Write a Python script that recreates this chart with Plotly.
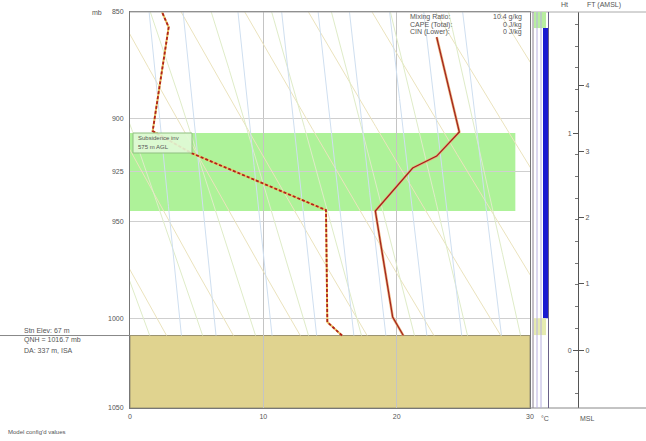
import numpy as np
import plotly.graph_objects as go

# ---------------- data ----------------
p_levels = [1050, 1000, 950, 925, 900, 850]          # mb
h_levels = [-267, 147, 594, 825, 1065, 1558]         # m MSL of those levels

temp_h = [67, 152, 641, 839, 894, 1005, 1442]
temp_t = [20.5, 19.7, 18.4, 21.2, 23.0, 24.7, 23.0]

dew_h = [67, 129, 645, 908, 1009, 1488, 1558]
dew_t = [15.9, 14.8, 14.7, 4.6, 1.7, 2.9, 2.4]

stn_elev = 67
inv_base, inv_top, inv_tmax = 641, 1000, 28.9

km_ticks = [0, 1000]
km_labels = ["0", "1"]
kft_ticks = [0, 304.8, 609.6, 914.4, 1219.2]
kft_labels = ["0", "1", "2", "3", "4"]

# cloud / moisture strip: (bottom m, top m, colour)
strip_bands = [(1484, 1558, "#b8eea0"), (147, 1484, "#1a1ad0"), (69, 147, "#e6ebb0")]

dry_thetas = list(range(2, 50, 5))        # deg C at 1000 mb
moist_thetas = list(range(1, 30, 4))
mix_ratios = [5, 6, 8, 10, 12, 14, 17, 20, 24]

# ---------------- helpers ----------------
P_LEV = np.array(p_levels, float)
def h_of_p(p):
    return np.interp(-np.log(p), -np.log(P_LEV), h_levels)

W, H = 646, 441
def px(x): return x / W
def py(y): return 1 - y / H

p_sfc = float(np.exp(np.interp(stn_elev, h_levels, np.log(P_LEV))))
p_arr = np.linspace(p_sfc, 850, 120)
h_arr = h_of_p(p_arr)

fig = go.Figure()

for th in dry_thetas:
    T = (th + 273.15) * (p_arr / 1000.0) ** 0.2857 - 273.15
    fig.add_trace(go.Scatter(x=T, y=h_arr, mode="lines", line=dict(color="#ebe3bd", width=1), hoverinfo="skip"))

Rd, cp, Lv, eps = 287.04, 1005.7, 2.501e6, 0.622
def es(tc): return 6.112 * np.exp(17.67 * tc / (tc + 243.5))
def moist(tw):
    def step(T, p, dp):
        tc = T - 273.15
        e = es(tc); rs = eps * e / (p - e)
        d = (Rd * T + Lv * rs) / (p * (cp + Lv * Lv * rs * eps / (Rd * T * T)))
        return T + d * dp
    ps_up = np.linspace(1000, 850, 151)
    Tu = [tw + 273.15]
    for i in range(1, len(ps_up)):
        Tu.append(step(Tu[-1], ps_up[i - 1], ps_up[i] - ps_up[i - 1]))
    ps_dn = np.linspace(1000, p_sfc, 20)
    Td_ = [tw + 273.15]
    for i in range(1, len(ps_dn)):
        Td_.append(step(Td_[-1], ps_dn[i - 1], ps_dn[i] - ps_dn[i - 1]))
    ps = np.concatenate([ps_dn[::-1], ps_up[1:]])
    Ts = np.concatenate([np.array(Td_)[::-1], np.array(Tu)[1:]]) - 273.15
    return Ts, h_of_p(ps)
for tw in moist_thetas:
    T, hh = moist(tw)
    fig.add_trace(go.Scatter(x=T, y=hh, mode="lines", line=dict(color="#dfecc8", width=1), hoverinfo="skip"))

for w in mix_ratios:
    e = w * p_arr / (622.0 + w)
    l = np.log(e / 6.112)
    T = 243.5 * l / (17.67 - l)
    fig.add_trace(go.Scatter(x=T, y=h_arr, mode="lines", line=dict(color="#cfdff0", width=1), hoverinfo="skip"))

fig.add_trace(go.Scatter(x=temp_t, y=temp_h, mode="lines", line=dict(color="#eab07a", width=2.6), hoverinfo="skip"))
fig.add_trace(go.Scatter(x=temp_t, y=temp_h, mode="lines", line=dict(color="#a3261e", width=1.3), hoverinfo="skip"))
fig.add_trace(go.Scatter(x=dew_t, y=dew_h, mode="lines", line=dict(color="#e8c060", width=2.0), hoverinfo="skip"))
fig.add_trace(go.Scatter(x=dew_t, y=dew_h, mode="lines", line=dict(color="#b0231c", width=1.8, dash="3px,2px"), hoverinfo="skip"))

fig.add_trace(go.Scatter(x=[None], y=[None], yaxis="y2", showlegend=False))
fig.add_trace(go.Scatter(x=[None], y=[None], yaxis="y3", showlegend=False))

shapes = []
shapes.append(dict(type="rect", xref="x", yref="y", x0=0, x1=30, y0=h_levels[0], y1=stn_elev,
                   fillcolor="#e0d38f", line=dict(color="#9a9270", width=1), layer="below"))
shapes.append(dict(type="rect", xref="x", yref="y", x0=0, x1=inv_tmax, y0=inv_base, y1=inv_top,
                   fillcolor="rgba(160,240,135,0.85)", line=dict(width=0), layer="below"))
shapes.append(dict(type="line", xref="paper", yref="y", x0=0, x1=px(130), y0=stn_elev, y1=stn_elev,
                   line=dict(color="#888", width=1)))
shapes.append(dict(type="line", xref="paper", yref="paper", x0=px(130), x1=1, y0=py(12), y1=py(12),
                   line=dict(color="#aaa", width=1)))
shapes.append(dict(type="line", xref="paper", yref="paper", x0=px(530), x1=1, y0=py(408), y1=py(408),
                   line=dict(color="#888", width=1)))
for (b, t, c) in strip_bands:
    if c == "#1a1ad0":
        x0, x1 = px(543), px(548)
    else:
        x0, x1 = px(534), px(546)
    shapes.append(dict(type="rect", xref="paper", yref="y", x0=x0, x1=x1, y0=b, y1=t,
                       fillcolor=c, line=dict(width=0)))
for xx, c in [(533, "#8a8090"), (537, "#b8b0e0"), (541, "#b8b0e0"), (548.5, "#6a6088")]:
    shapes.append(dict(type="line", xref="paper", yref="paper", x0=px(xx), x1=px(xx), y0=py(12), y1=py(408),
                       line=dict(color=c, width=1)))
shapes.append(dict(type="rect", xref="paper", yref="paper", x0=px(133), x1=px(192), y0=py(153), y1=py(133),
                   fillcolor="rgba(225,250,215,0.9)", line=dict(color="#8fbf80", width=1)))

f = dict(family="Liberation Sans, Arial", size=7, color="#555")
anns = []
def ann(x, y, text, xa="left", size=7, color="#555"):
    anns.append(dict(x=px(x), y=py(y), xref="paper", yref="paper", text=text, showarrow=False,
                     xanchor=xa, yanchor="middle", font=dict(family="Liberation Sans, Arial", size=size, color=color)))
ann(104, 12, "mb", "right")
ann(22, 330, "Stn Elev: 67 m")
ann(22, 340, "QNH = 1016.7 mb")
ann(22, 350, "DA: 337 m, ISA")
ann(6, 432, "Model config'd values", size=6)
ann(136, 138, "Subsidence inv", size=6)
ann(136, 147, "575 m AGL", size=6)
ann(408, 17, "Mixing Ratio:")
ann(408, 24.5, "CAPE (Total):")
ann(408, 32, "CIN (Lower):")
ann(524, 17, "10.4 g/kg", "right")
ann(524, 24.5, "0 J/kg", "right")
ann(524, 32, "0 J/kg", "right")
ann(539, 418, "°C")
ann(564, 5, "Ht", "center")
ann(604, 5, "FT (AMSL)", "center")
ann(587, 418, "MSL", "center")

fig.update_layout(
    width=W, height=H, margin=dict(l=0, r=0, t=0, b=0, autoexpand=False),
    paper_bgcolor="white", plot_bgcolor="white", showlegend=False,
    shapes=shapes, annotations=anns,
    xaxis=dict(domain=[px(130), px(530)], range=[0, 30], tickvals=[0, 10, 20, 30],
               ticktext=["0", "10", "20", "30"], showgrid=True, gridcolor="#c4c4c4",
               zeroline=False, showline=True, linecolor="#777", mirror=True, ticks="",
               tickfont=f, ticklabelstandoff=2, automargin=False),
    yaxis=dict(domain=[py(408), py(12)], range=[h_levels[0], h_levels[-1]],
               tickvals=h_levels, ticktext=[str(p) for p in p_levels],
               showgrid=True, gridcolor="#cfcfcf", zeroline=False, showline=True,
               linecolor="#777", mirror=True, ticks="", tickfont=f, ticklabelstandoff=4,
               automargin=False),
    yaxis2=dict(overlaying="y", anchor="free", position=px(578), side="right",
                range=[h_levels[0], h_levels[-1]], tickvals=kft_ticks, ticktext=kft_labels,
                ticks="outside", ticklen=5, tickcolor="#555", showgrid=False, zeroline=False,
                showline=True, linecolor="#555", tickfont=f, automargin=False),
    yaxis3=dict(overlaying="y", anchor="free", position=px(578), side="left",
                range=[h_levels[0], h_levels[-1]], tickvals=km_ticks, ticktext=km_labels,
                ticks="outside", ticklen=5, tickcolor="#555", showgrid=False, zeroline=False,
                showline=False, tickfont=f, automargin=False,
                minor=dict(tickvals=list(range(-200, 1600, 100)), ticks="outside", ticklen=3, tickcolor="#777")),
)
fig.write_html("out.html", post_script="document.body.style.margin='0';",
               config={"displayModeBar": False})
